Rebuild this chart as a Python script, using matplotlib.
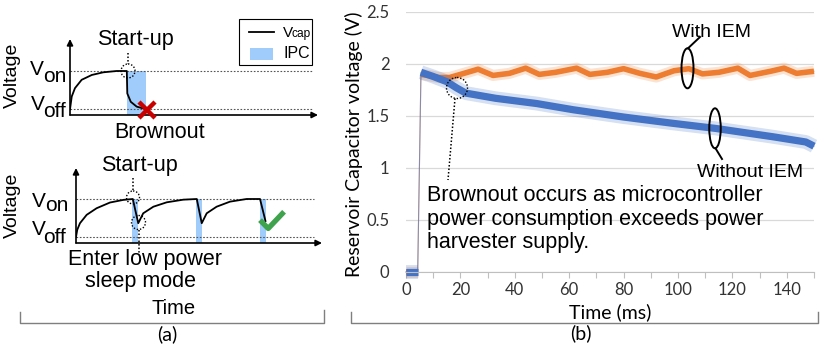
import numpy as np
import matplotlib.pyplot as plt
from matplotlib.patches import Rectangle, Circle, Ellipse

plt.rcParams['font.family'] = ['Liberation Sans', 'DejaVu Sans']

# ---- panel (b): reservoir capacitor voltage ----
time_with = [0, 4.3, 5.5, 8, 12, 16, 20, 26.5, 32, 38, 44, 49, 55, 62.7, 67.6, 74,
             80, 86, 92, 98.5, 104, 109, 115, 122, 126.5, 134, 139, 143.6, 150]
volt_with = [0, 0, 1.90, 1.89, 1.87, 1.87, 1.90, 1.95, 1.89, 1.91, 1.96, 1.90, 1.92, 1.96, 1.90, 1.92,
             1.955, 1.91, 1.875, 1.935, 1.955, 1.905, 1.92, 1.96, 1.89, 1.93, 1.96, 1.91, 1.93]

time_without = [0, 4.3, 5.5, 10, 15, 18.6, 22, 33, 48, 61.5, 80, 98, 114, 135, 147, 150]
volt_without = [0, 0, 1.92, 1.88, 1.83, 1.77, 1.72, 1.67, 1.62, 1.56, 1.49, 1.43, 1.38, 1.30, 1.25, 1.21]

# ---- panel (a): schematic curves (arbitrary time units, V_on = 1) ----
V_ON = 1.0
V_OFF = 0.135
brown_t = [0, 0.07, 0.2, 0.47, 0.88, 1.34, 1.88, 2.29, 2.31, 2.45, 2.69, 3.02]
brown_v = [0.13, 0.42, 0.61, 0.80, 0.91, 0.97, 1.0, 1.0, 0.49, 0.30, 0.19, 0.14]
brown_ipc = [(2.29, 0.77)]          # (start, width) of the IPC window

sleep_t = [0, 0.05, 0.16, 0.43, 0.83, 1.37, 1.91, 2.29, 2.51, 2.71, 3.12, 3.66, 4.33, 4.87,
           5.07, 5.27, 5.67, 6.21, 6.88, 7.42, 7.64]
sleep_v = [0.136, 0.30, 0.45, 0.64, 0.79, 0.92, 0.98, 1.0, 0.45, 0.675, 0.825, 0.925, 0.985, 1.0,
           0.45, 0.675, 0.825, 0.94, 1.0, 1.0, 0.5]
sleep_ipc = [(2.26, 0.24), (4.84, 0.24), (7.42, 0.24)]

ORANGE = '#ED7D31'
BLUE = '#4472C4'
IPC = '#9FCCFB'

W, H = 830, 345
fig = plt.figure(figsize=(W / 100, H / 100), dpi=100)


def px_box(left, top, right, bottom):
    return [left / W, 1 - bottom / H, (right - left) / W, (bottom - top) / H]


# ---------------- panel (b) ----------------
ax = fig.add_axes(px_box(406, 12, 814, 272))
ax.set_xlim(0, 150)
ax.set_ylim(0, 2.5)

for t, v, c, core, fuzz in [(time_with, volt_with, ORANGE, 4.0, 8.0),
                            (time_without, volt_without, BLUE, 5.2, 10.0)]:
    t = np.array(t)
    v = np.array(v)
    ax.plot(t, v, color=c, lw=0.8, alpha=0.6, clip_on=False)
    for part in [t < 5, t > 5]:
        ax.plot(t[part], v[part], color=c, lw=fuzz, alpha=0.22, clip_on=False,
                solid_capstyle='butt')
        ax.plot(t[part], v[part], color=c, lw=core, clip_on=False,
                solid_capstyle='butt', solid_joinstyle='round')

ax.set_yticks(np.arange(0, 2.51, 0.5))
ax.set_yticklabels(['0', '0.5', '1', '1.5', '2', '2.5'])
ax.set_xticks(np.arange(0, 141, 20))
ax.set_xticks(np.arange(10, 151, 20), minor=True)
ax.yaxis.grid(True, color='#D9D9D9', lw=0.9)
ax.set_axisbelow(True)
for s in ['left', 'right', 'top']:
    ax.spines[s].set_visible(False)
ax.spines['bottom'].set_color('#BFBFBF')
ax.tick_params(axis='y', length=0, pad=12, labelsize=12, labelcolor='#333333')
ax.tick_params(axis='x', which='both', direction='out', length=4, width=0.8, color='#BFBFBF')
ax.tick_params(axis='x', pad=3, labelsize=12, labelcolor='#333333')
for lbl in ax.get_xticklabels() + ax.get_yticklabels():
    lbl.set_family('Lato')

ax.set_xlabel('Time (ms)', family='Lato', fontsize=14, va='center')
ax.xaxis.set_label_coords(0.5, (272 - 312) / 260)
ax.set_ylabel('Reservoir Capacitor voltage (V)', family='Lato', fontsize=14, va='center')
ax.yaxis.set_label_coords((354 - 406) / 408, (272 - 144) / 260)

# ---------------- panel (a) schematics ----------------
def schematic(box, t, v, ipc, xmax, ymax, dots_end):
    sa = fig.add_axes(box)
    sa.set_xlim(0, xmax)
    sa.set_ylim(0, ymax)
    sa.axis('off')
    for start, width in ipc:
        sa.add_patch(Rectangle((start, 0), width, V_ON, color=IPC, lw=0, zorder=1))
    sa.hlines([V_ON, V_OFF], 0, dots_end, colors='#555555', lw=0.8,
              linestyles=(0, (1.5, 1.5)), zorder=2)
    sa.plot(t, v, color='black', lw=1.3, zorder=3, solid_joinstyle='round')
    arrow = dict(arrowstyle='-|>', lw=1.2, color='black', mutation_scale=9,
                 shrinkA=0, shrinkB=0)
    sa.annotate('', xy=(0, ymax), xytext=(0, 0), arrowprops=arrow, annotation_clip=False)
    sa.annotate('', xy=(xmax, 0), xytext=(0, 0), arrowprops=arrow, annotation_clip=False)
    return sa


top = schematic(px_box(70, 39, 318, 115), brown_t, brown_v, brown_ipc,
                248 / 24.8, 76 / 44, 243 / 24.8)
top.plot([3.09], [0.11], marker='x', ms=12, mew=3.2, color='#C80000', zorder=5, clip_on=False)

bot = schematic(px_box(76, 168, 322, 243), sleep_t, sleep_v, sleep_ipc,
                246 / 24.8, 75 / 44, 238 / 24.8)
bot.plot([7.42, 7.75, 8.39], [0.52, 0.33, 0.71], color='#3FA34D', lw=3.8,
         solid_capstyle='butt', zorder=5, clip_on=False)

# ---------------- overlay: labels, brackets, call-outs ----------------
ov = fig.add_axes([0, 0, 1, 1])
ov.set_xlim(0, W)
ov.set_ylim(H, 0)
ov.axis('off')

big = 15.5
for y in [75, 205]:
    ov.text(12, y, 'Voltage', rotation=90, fontsize=14, ha='center', va='center')
for x, y, sub, dx, dy in [(30, 75, 'on', 13.5, 6.5), (31, 110, 'off', 12, 7),
                          (31.5, 207, 'on', 13.5, 4), (31.5, 235, 'off', 12, 8)]:
    ov.text(x, y, 'V', fontsize=15, ha='left', va='baseline')
    ov.text(x + dx, y + dy, sub, fontsize=15, ha='left', va='baseline')

ov.text(135, 40, 'Start-up', fontsize=big, ha='center', va='center')
ov.text(160, 133, 'Brownout', fontsize=big, ha='center', va='center')
ov.text(139, 165, 'Start-up', fontsize=big, ha='center', va='center')
ov.text(145, 260, 'Enter low power', fontsize=big, ha='center', va='center')
ov.text(140, 281, 'sleep mode', fontsize=big, ha='center', va='center')
ov.text(174, 308, 'Time', fontsize=14.5, ha='center', va='center')
ov.text(167, 334, '(a)', family='Lato', fontsize=14, ha='center', va='center')
ov.text(581, 333, '(b)', family='Lato', fontsize=14, ha='center', va='center')

# legend of the schematic
ov.add_patch(Rectangle((239, 19), 73, 46, fill=False, ec='black', lw=0.8))
ov.plot([249, 274], [32, 32], color='black', lw=1.3)
ov.text(282.5, 37, 'V', fontsize=11, ha='left', va='baseline')
ov.text(291.5, 37, 'cap', fontsize=8.6, ha='left', va='baseline')
ov.add_patch(Rectangle((250, 48), 23, 12, color=IPC, lw=0))
ov.text(283, 54, 'IPC', fontsize=11.5, ha='left', va='center')

# dotted call-outs
dot = dict(color='black', lw=1.1, ls=(0, (1, 1.3)))
for cx, cy, r in [(128, 71, 7), (133, 197.5, 6.5), (138.5, 222.5, 7), (457, 88, 10.5)]:
    ov.add_patch(Circle((cx, cy), r, fill=False, ec='black', lw=1.0, ls=(0, (1, 1.3))))
ov.plot([128, 128], [53, 64], **dot)
ov.plot([133, 133], [178, 191], **dot)
ov.plot([139, 139], [229.5, 253], **dot)
ov.plot([455, 448], [98.5, 180], **dot)

for i, line in enumerate(['Brownout occurs as microcontroller',
                          'power consumption exceeds power',
                          'harvester supply.']):
    ov.text(427, 201 + 23.5 * i, line, fontsize=big, ha='left', va='baseline')

# series call-outs
ov.add_patch(Ellipse((687.5, 68.3), 12, 40, fill=False, ec='black', lw=1.4))
ov.plot([688, 700], [48.3, 37], color='black', lw=1.4)
ov.text(711.5, 37, 'With IEM', fontsize=14, ha='center', va='baseline')
ov.add_patch(Ellipse((715, 128.3), 11.5, 40, fill=False, ec='black', lw=1.4))
ov.plot([715.5, 722], [148.3, 159], color='black', lw=1.4)
ov.text(750, 177, 'Without IEM', fontsize=14, ha='center', va='baseline')

# brackets under the panels
br = dict(color='#7F7F7F', lw=1.0)
ov.plot([20, 20, 324, 324], [312, 323, 323, 310], **br)
ov.plot([351, 351, 818, 818], [312, 323, 323, 312], **br)

fig.savefig('out.png', dpi=100)
